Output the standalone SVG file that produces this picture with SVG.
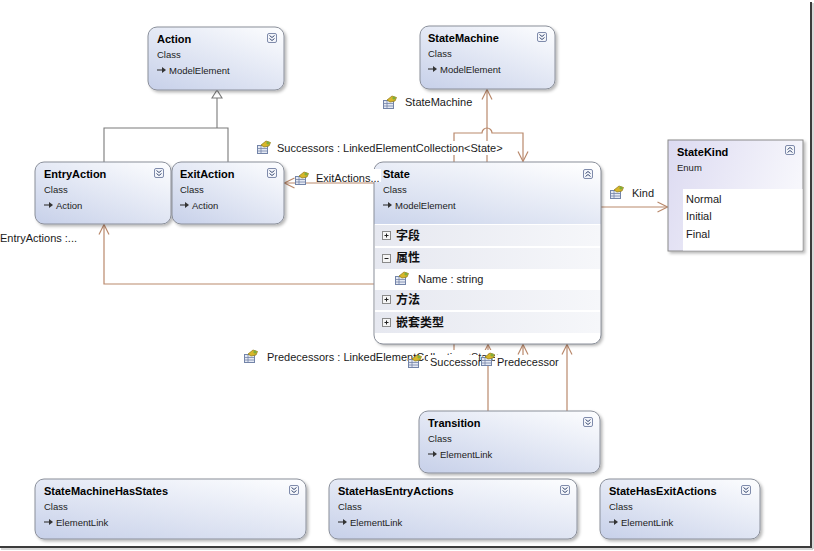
<svg xmlns="http://www.w3.org/2000/svg" xmlns:xlink="http://www.w3.org/1999/xlink" width="814" height="551" viewBox="0 0 814 551">
<style>
.box{fill:url(#boxg);stroke:#8a8f9a;stroke-width:1;filter:url(#sh)}
.t{font-family:"Liberation Sans",Arial,sans-serif;font-size:11px;font-weight:bold;fill:#000}
.s{font-family:"Liberation Sans",Arial,sans-serif;font-size:9.5px;fill:#222}
.l{font-family:"Liberation Sans",Arial,sans-serif;font-size:11px;fill:#1a1a1a}
.cjk{font-family:"Noto Sans CJK SC","Noto Sans",sans-serif;font-size:12px;font-weight:bold;fill:#111}
.c{fill:none;stroke:#b9896c;stroke-width:1.2}
.g{fill:none;stroke:#7a7a7a;stroke-width:1.1}
.row{fill:url(#rowg)}
.bg{fill:#fff}
</style>
<defs>
<linearGradient id="boxg" x1="0.9" y1="0" x2="0.1" y2="1">
<stop offset="0" stop-color="#fbfcfe"/>
<stop offset="1" stop-color="#c9d2ea"/>
</linearGradient>
<linearGradient id="hdrg" x1="0.9" y1="0" x2="0.1" y2="1">
<stop offset="0" stop-color="#ffffff"/>
<stop offset="1" stop-color="#cdd6ec"/>
</linearGradient>
<linearGradient id="enumg" x1="0" y1="0" x2="1" y2="0.3">
<stop offset="0" stop-color="#dcdaf1"/>
<stop offset="1" stop-color="#f7f7fc"/>
</linearGradient>
<linearGradient id="rowg" x1="0" y1="0" x2="1" y2="0">
<stop offset="0" stop-color="#e6e8f0"/>
<stop offset="1" stop-color="#f6f7fa"/>
</linearGradient>
<filter id="sh" x="-10%" y="-10%" width="125%" height="130%">
<feDropShadow dx="2" dy="2" stdDeviation="1.5" flood-color="#000" flood-opacity="0.28"/>
</filter>
<symbol id="dn" viewBox="0 0 10 10" overflow="visible">
<rect x="0.5" y="0.5" width="9" height="9" rx="1.5" fill="#f3f5fa" stroke="#7f8bab"/>
<path d="M2.5 2.5 L5 4.5 L7.5 2.5 M2.5 5.5 L5 7.5 L7.5 5.5" fill="none" stroke="#3b4c73" stroke-width="1"/>
</symbol>
<symbol id="up" viewBox="0 0 10 10" overflow="visible">
<rect x="0.5" y="0.5" width="9" height="9" rx="1.5" fill="#f3f5fa" stroke="#7f8bab"/>
<path d="M2.5 4.5 L5 2.5 L7.5 4.5 M2.5 7.5 L5 5.5 L7.5 7.5" fill="none" stroke="#3b4c73" stroke-width="1"/>
</symbol>
<symbol id="prop" viewBox="0 0 14 14" overflow="visible">
<rect x="0.5" y="5.5" width="10" height="8" fill="#e4e9f3" stroke="#7384a8"/>
<path d="M0.5 8.5 H10.5 M0.5 11 H10.5 M4 5.5 V13.5" stroke="#7384a8" stroke-width="0.8"/>
<path d="M4 5 L9 1 L13.5 2.5 L12 6 L7 7 Z" fill="#d8b62a" stroke="#8d7a18" stroke-width="0.7"/>
<circle cx="11" cy="3" r="1.6" fill="#7fae3a"/>
</symbol>
<symbol id="inh" viewBox="0 0 10 8" overflow="visible">
<path d="M0 4 H6" stroke="#333" stroke-width="1.1"/>
<path d="M5 1 L9 4 L5 7 Z" fill="#333"/>
</symbol>
<symbol id="plus" viewBox="0 0 9 9" overflow="visible">
<rect x="0.5" y="0.5" width="8" height="8" fill="#f5f5f5" stroke="#8a8a8a"/>
<path d="M2.5 4.5 H6.5 M4.5 2.5 V6.5" stroke="#222" stroke-width="1"/>
</symbol>
<symbol id="minus" viewBox="0 0 9 9" overflow="visible">
<rect x="0.5" y="0.5" width="8" height="8" fill="#f5f5f5" stroke="#8a8a8a"/>
<path d="M2.5 4.5 H6.5" stroke="#222" stroke-width="1"/>
</symbol>
<marker id="oa" viewBox="0 0 12 12" refX="11" refY="6" markerWidth="12" markerHeight="12" markerUnits="userSpaceOnUse" orient="auto">
<path d="M1 1 L11 6 L1 11" fill="none" stroke="#b9896c" stroke-width="1.2"/>
</marker>
</defs>

<rect x="0" y="0" width="814" height="551" fill="#fff"/>

<!-- frame -->
<g id="frame">
<path d="M811 2 V547 H0" fill="none" stroke="#3c3c3c" stroke-width="2"/>
<path d="M813 3 V549 H1" fill="none" stroke="#b0b0b0" stroke-width="1"/>
</g>

<!-- connectors -->
<g id="connectors">
<path class="g" d="M104 162 V128 H228 V162 M217 128 V98"/>
<path d="M217 90 L212 98 L222 98 Z" fill="#fff" stroke="#7a7a7a" stroke-width="1.1"/>
<path class="c" d="M487 162 V89.5" marker-end="url(#oa)"/>
<path class="c" d="M454 162 V133 H482 A5 5 0 0 1 492 133 H523 V161.5" marker-end="url(#oa)"/>
<path class="c" d="M374 183 H284.5" marker-end="url(#oa)"/>
<path class="c" d="M601 207 H667.5" marker-end="url(#oa)"/>
<path class="c" d="M374 284 H104 V224.5" marker-end="url(#oa)"/>
<path class="c" d="M488 411 V344.5" marker-end="url(#oa)"/>
<path class="c" d="M567 411 V344.5" marker-end="url(#oa)"/>
<path class="c" d="M454 344 V360 H523 V344.5" marker-end="url(#oa)"/>
</g>

<!-- nodes -->
<g id="Action">
<rect class="box" x="148" y="27" width="136" height="63" rx="9"/>
<text class="t" x="157" y="43">Action</text>
<text class="s" x="157" y="58">Class</text>
<use href="#inh" x="157" y="66" width="10" height="8"/>
<text class="s" x="169" y="74">ModelElement</text>
<use href="#dn" x="267" y="33" width="10" height="10"/>
</g>

<g id="EntryAction">
<rect class="box" x="35" y="162" width="136" height="62" rx="9"/>
<text class="t" x="44" y="178">EntryAction</text>
<text class="s" x="44" y="193">Class</text>
<use href="#inh" x="44" y="201" width="10" height="8"/>
<text class="s" x="56" y="209">Action</text>
<use href="#dn" x="154" y="168" width="10" height="10"/>
</g>

<g id="ExitAction">
<rect class="box" x="172" y="162" width="112" height="62" rx="9"/>
<text class="t" x="180" y="178">ExitAction</text>
<text class="s" x="180" y="193">Class</text>
<use href="#inh" x="180" y="201" width="10" height="8"/>
<text class="s" x="192" y="209">Action</text>
<use href="#dn" x="267" y="168" width="10" height="10"/>
</g>

<g id="StateMachine">
<rect class="box" x="420" y="26" width="135" height="63" rx="9"/>
<text class="t" x="428" y="42">StateMachine</text>
<text class="s" x="428" y="57">Class</text>
<use href="#inh" x="428" y="65" width="10" height="8"/>
<text class="s" x="440" y="73">ModelElement</text>
<use href="#dn" x="537" y="32" width="10" height="10"/>
</g>

<g id="State">
<rect x="374" y="162" width="227" height="182" rx="9" fill="#fff" filter="url(#sh)"/>
<path d="M383 162 H592 A9 9 0 0 1 601 171 V224 H374 V171 A9 9 0 0 1 383 162 Z" fill="url(#hdrg)"/>
<rect class="row" x="375" y="225" width="225" height="21"/>
<rect class="row" x="375" y="248" width="225" height="21"/>
<rect class="row" x="375" y="290" width="225" height="20"/>
<rect class="row" x="375" y="312" width="225" height="21"/>
<rect x="374" y="162" width="227" height="182" rx="9" fill="none" stroke="#8a8f9a"/>
<text class="t" x="383" y="178">State</text>
<text class="s" x="383" y="193">Class</text>
<use href="#inh" x="383" y="201" width="10" height="8"/>
<text class="s" x="395" y="209">ModelElement</text>
<use href="#up" x="583" y="169" width="10" height="10"/>
<use href="#plus" x="382" y="231" width="9" height="9"/>
<text class="cjk" x="396" y="240">字段</text>
<use href="#minus" x="382" y="254" width="9" height="9"/>
<text class="cjk" x="396" y="262">属性</text>
<use href="#prop" x="395" y="271" width="14" height="14"/>
<text class="l" x="418" y="283">Name : string</text>
<use href="#plus" x="382" y="295" width="9" height="9"/>
<text class="cjk" x="396" y="304">方法</text>
<use href="#plus" x="382" y="318" width="9" height="9"/>
<text class="cjk" x="396" y="327">嵌套类型</text>
</g>

<g id="StateKind">
<rect x="668" y="140" width="135" height="111" fill="url(#enumg)" stroke="#8a8a8a" filter="url(#sh)"/>
<rect x="683" y="189" width="119.5" height="61.5" fill="#fff"/>
<text class="t" x="677" y="156">StateKind</text>
<text class="s" x="677" y="171">Enum</text>
<use href="#up" x="785" y="145" width="10" height="10"/>
<text class="l" x="686" y="203">Normal</text>
<text class="l" x="686" y="220">Initial</text>
<text class="l" x="686" y="238">Final</text>
</g>

<g id="Transition">
<rect class="box" x="419" y="411" width="181" height="62" rx="9"/>
<text class="t" x="428" y="427">Transition</text>
<text class="s" x="428" y="442">Class</text>
<use href="#inh" x="428" y="450" width="10" height="8"/>
<text class="s" x="440" y="458">ElementLink</text>
<use href="#dn" x="583" y="417" width="10" height="10"/>
</g>

<g id="StateMachineHasStates">
<rect class="box" x="35" y="479" width="271" height="60" rx="9"/>
<text class="t" x="44" y="495">StateMachineHasStates</text>
<text class="s" x="44" y="510">Class</text>
<use href="#inh" x="44" y="518" width="10" height="8"/>
<text class="s" x="56" y="526">ElementLink</text>
<use href="#dn" x="289" y="485" width="10" height="10"/>
</g>

<g id="StateHasEntryActions">
<rect class="box" x="329" y="479" width="248" height="60" rx="9"/>
<text class="t" x="338" y="495">StateHasEntryActions</text>
<text class="s" x="338" y="510">Class</text>
<use href="#inh" x="338" y="518" width="10" height="8"/>
<text class="s" x="350" y="526">ElementLink</text>
<use href="#dn" x="560" y="485" width="10" height="10"/>
</g>

<g id="StateHasExitActions">
<rect class="box" x="600" y="479" width="160" height="60" rx="9"/>
<text class="t" x="609" y="495">StateHasExitActions</text>
<text class="s" x="609" y="510">Class</text>
<use href="#inh" x="609" y="518" width="10" height="8"/>
<text class="s" x="621" y="526">ElementLink</text>
<use href="#dn" x="741" y="485" width="10" height="10"/>
</g>

<!-- connector labels -->
<g id="labels">
<use href="#prop" x="383" y="95" width="14" height="14"/>
<text class="l" x="405" y="106">StateMachine</text>
<rect class="bg" x="275" y="141" width="231" height="14"/>
<use href="#prop" x="257" y="140" width="14" height="14"/>
<text class="l" x="277" y="152">Successors : LinkedElementCollection&lt;State&gt;</text>
<rect class="bg" x="314" y="169" width="67" height="13"/>
<use href="#prop" x="295" y="171" width="14" height="14"/>
<text class="l" x="316" y="182">ExitActions...</text>
<use href="#prop" x="610" y="185" width="14" height="14"/>
<text class="l" x="632" y="197">Kind</text>
<text class="l" x="0" y="242">EntryActions :...</text>
<rect class="bg" x="265" y="350" width="234" height="14"/>
<use href="#prop" x="244" y="349" width="14" height="14"/>
<text class="l" x="267" y="361">Predecessors : LinkedElementCollection&lt;State&gt;</text>
<rect class="bg" x="428" y="355" width="50" height="14"/>
<use href="#prop" x="408" y="354" width="14" height="14"/>
<text class="l" x="430" y="366">Successor</text>
<rect class="bg" x="495" y="355" width="64" height="14"/>
<use href="#prop" x="481" y="352" width="14" height="14"/>
<text class="l" x="497" y="366">Predecessor</text>
</g>
</svg>
